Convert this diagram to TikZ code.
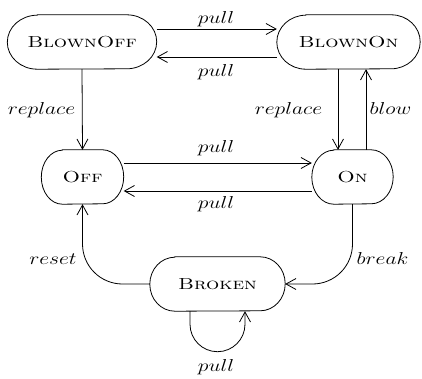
\documentclass[tikz,border=0pt]{standalone}
\usetikzlibrary{arrows.meta,calc}
\newcommand{\stname}[1]{\scalebox{1.3}[1]{\fontsize{16}{19}\selectfont\textsc{#1}}}
\newcommand{\lab}[1]{\scalebox{1.25}[1]{\fontsize{17}{20}\selectfont$#1$}}
% #1 node name, #2 horizontal radius of the half-elliptic ends (pt); half height 27pt
\newcommand{\stadium}[2]{%
  \draw[line width=0.8pt] ([xshift=#2pt]#1.north west) -- ([xshift=-#2pt]#1.north east)
    arc[start angle=90, end angle=-90, x radius=#2pt, y radius=27pt]
    -- ([xshift=#2pt]#1.south west)
    arc[start angle=270, end angle=90, x radius=#2pt, y radius=27pt] -- cycle;}
\begin{document}
\begin{tikzpicture}[x=1pt,y=1pt,
  state/.style={minimum height=54pt, inner sep=0pt},
  arr/.style={line width=0.8pt, -{Straight Barb[length=10pt,width=11pt,line width=0.8pt]}},
  lbl/.style={inner sep=0pt}]
\useasboundingbox (0,0) rectangle (422,-379);
\node[state, minimum width=149pt] (bo) at (82,-42) {\stname{BlownOff}};
\node[state, minimum width=143pt] (bn) at (348.5,-42) {\stname{BlownOn}};
\node[state, minimum width=82pt] (off) at (82.5,-177) {\stname{Off}};
\node[state, minimum width=81pt] (on) at (352.5,-177) {\stname{On}};
\node[state, minimum width=135pt] (br) at (217.5,-284) {\stname{Broken}};
\stadium{bo}{30}
\stadium{bn}{29}
\stadium{off}{21}
\stadium{on}{22}
\stadium{br}{25}

\draw[arr] ([yshift=13pt]bo.east) -- ([yshift=13pt]bn.west);
\draw[arr] ([yshift=-15pt]bn.west) -- ([yshift=-15pt]bo.east);
\draw[arr] (bo.south) -- (off.north);
\draw[arr] ([xshift=-10.5pt]bn.south) -- ([xshift=-14.5pt]on.north);
\draw[arr] ([xshift=13.5pt]on.north) -- ([xshift=17.5pt]bn.south);
\draw[arr] ([yshift=14pt]off.east) -- ([yshift=14pt]on.west);
\draw[arr] ([yshift=-14pt]on.west) -- ([yshift=-14pt]off.east);
\draw[arr, rounded corners=40pt] (br.west) -| (off.south);
\draw[arr, rounded corners=40pt] (on.south) |- (br.east);
\draw[arr] ([xshift=-27.5pt]br.south) -- ++(0,-13) arc[start angle=180, end angle=360, radius=27.5] -- ([xshift=27.5pt]br.south);

\node[lbl] (l1) at (216,-19.5) {\lab{pull}};
\node[lbl] (l2) at (216,-72) {\lab{pull}};
\node[lbl] (l3) at (41.5,-110.5) {\lab{replace}};
\node[lbl] (l4) at (288.5,-110.5) {\lab{replace}};
\node[lbl] (l5) at (390.5,-108.5) {\lab{blow}};
\node[lbl] (l6) at (216,-148.5) {\lab{pull}};
\node[lbl] (l7) at (216,-204) {\lab{pull}};
\node[lbl] (l8) at (53,-259) {\lab{reset}};
\node[lbl] (l9) at (382.5,-258.5) {\lab{break}};
\node[lbl] (l10) at (216,-367) {\lab{pull}};
\end{tikzpicture}
\end{document}
